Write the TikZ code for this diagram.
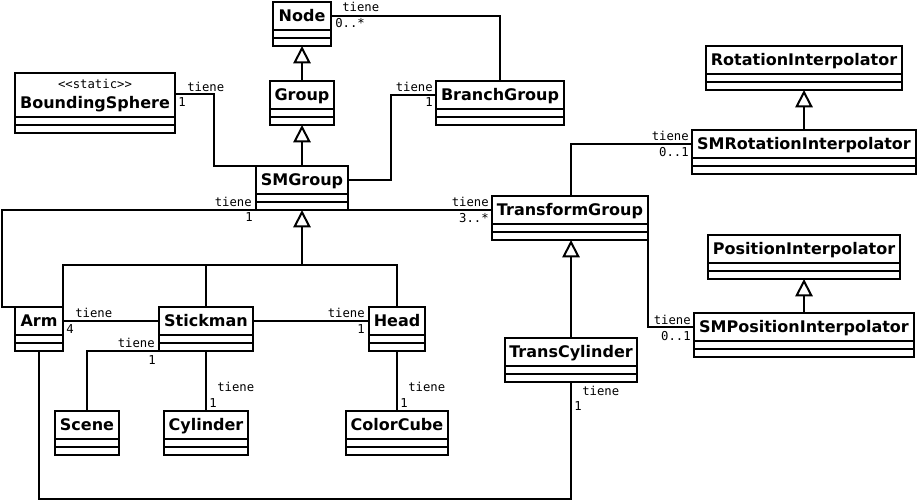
\documentclass[tikz,border=0pt]{standalone}
\usepackage{fontspec}
\usetikzlibrary{arrows.meta}
\newfontfamily\titlefont{DejaVu Sans}
\newfontfamily\monofont{DejaVu Sans Mono}
% #1 title y shift, #2 name, #3 left, #4 top, #5 right, #6 title height, #7 text
\newcommand\umlclass[7][0]{%
  \node[umlbox, anchor=north west, minimum width={(#5-#3)*0.75pt}, minimum height={(#6+16)*0.75pt}] (#2) at (#3,#4) {};
  \node[umltitle, anchor=base] (#2-t) at ({(#3+#5)/2},{#4+#6/2+5.8+#1}) {#7};
  \draw[umlline] (#3,{#4+#6}) -- (#5,{#4+#6});
  \draw[umlline] (#3,{#4+#6+8}) -- (#5,{#4+#6+8});
}
\begin{document}
\begin{tikzpicture}[x=0.75pt,y=-0.75pt,
  umlbox/.style={draw, line width=1.5pt, fill=white, inner sep=0pt, outer sep=0pt},
  umltitle/.style={font=\titlefont\bfseries\fontsize{12}{14}\selectfont, inner sep=0pt, text height=8.75pt, text depth=0pt},
  stereo/.style={font=\monofont\fontsize{9.2}{10}\selectfont, inner sep=0pt},
  umlline/.style={line width=1.5pt},
  assoc/.style={line width=1.5pt},
  inh/.style={line width=1.5pt, -{Triangle[open, length=13pt, width=13pt]}},
  lbl/.style={font=\monofont\fontsize{9.2}{10}\selectfont, inner sep=0pt}]
\useasboundingbox (0,0) rectangle (919,503);

% classes
\umlclass{Node}{273}{2}{331}{28}{Node}
\umlclass{Group}{270}{81}{334}{28}{Group}
\umlclass{BranchGroup}{436}{81}{564}{28}{BranchGroup}
\umlclass[8]{BS}{15}{73}{175}{44}{BoundingSphere}
\node[stereo, anchor=base] (BS-s) at (95,88.5) {<{}<static>{}>};
\umlclass{SMGroup}{256}{166}{348}{28}{SMGroup}
\umlclass{Arm}{15}{307}{63}{28}{Arm}
\umlclass{Stickman}{159}{307}{253}{28}{Stickman}
\umlclass{Head}{369}{307}{425}{28}{Head}
\umlclass{Scene}{55}{411}{119}{28}{Scene}
\umlclass{Cylinder}{164}{411}{248}{28}{Cylinder}
\umlclass{ColorCube}{346}{411}{448}{28}{ColorCube}
\umlclass{TransformGroup}{492}{196}{648}{28}{TransformGroup}
\umlclass{SMRot}{692}{130}{916}{28}{SMRotationInterpolator}
\umlclass{RotInt}{706}{46}{902}{28}{RotationInterpolator}
\umlclass{PosInt}{708}{235}{900}{28}{PositionInterpolator}
\umlclass{SMPos}{694}{313}{914}{28}{SMPositionInterpolator}
\umlclass{TransCylinder}{505}{338}{637}{28}{TransCylinder}

% inheritance
\draw[inh] (Group.north) -- (Node.south);
\draw[inh] (SMGroup.north) -- (Group.south);
\coordinate (hj) at (302,265);
\draw[assoc] (Arm.north east) |- (hj) -| (Head.north);
\draw[assoc] (Stickman.north) -- (Stickman.north |- hj);
\draw[inh] (hj) -- (SMGroup.south);
\draw[inh] (TransCylinder.north) -- (TransCylinder.north |- TransformGroup.south);
\draw[inh] (SMRot.north) -- (SMRot.north |- RotInt.south);
\draw[inh] (SMPos.north) -- (SMPos.north |- PosInt.south);

% associations
\draw[assoc] (Node-t -| Node.east) -| (BranchGroup.north);
\coordinate (k1) at (214,94);
\draw[assoc] (BS.east |- k1) -| (SMGroup.north west -| k1) -- (SMGroup.north west);
\coordinate (k2) at (391,0);
\draw[assoc] (SMGroup-t -| SMGroup.east) -| (k2 |- BranchGroup-t) -- (BranchGroup-t -| BranchGroup.west);
\coordinate (k3) at (2,210);
\draw[assoc] (Arm.north west) -| (k3) -- (k3 -| TransformGroup.west);
\draw[assoc] (Arm-t -| Arm.east) -- (Arm-t -| Stickman.west);
\draw[assoc] (Stickman-t -| Stickman.east) -- (Stickman-t -| Head.west);
\draw[assoc] (Stickman.south west) -| (Scene.north);
\draw[assoc] (Stickman.south) -- (Stickman.south |- Cylinder.north);
\draw[assoc] (Head.south) -- (Head.south |- ColorCube.north);
\coordinate (k4) at (0,499);
\draw[assoc] (Arm.south) |- (k4 -| TransCylinder.south) -- (TransCylinder.south);
\coordinate (k5) at (571,0);
\draw[assoc] (k5 |- TransformGroup.north) |- (SMRot-t -| SMRot.west);
\draw[assoc] (TransformGroup.south east) |- (SMPos-t -| SMPos.west);

% labels
\node[lbl, anchor=west] (l1a) at (342,7) {tiene};
\node[lbl, anchor=west] (l1b) at (335,23.5) {0..*};
\node[lbl, anchor=west] (l2a) at (187,87) {tiene};
\node[lbl, anchor=west] (l2b) at (178,102.5) {1};
\node[lbl, anchor=east] (l3a) at (433,87) {tiene};
\node[lbl, anchor=east] (l3b) at (433,102.5) {1};
\node[lbl, anchor=east] (l4a) at (252,202) {tiene};
\node[lbl, anchor=east] (l4b) at (253,217.5) {1};
\node[lbl, anchor=east] (l5a) at (489,202) {tiene};
\node[lbl, anchor=east] (l5b) at (489,218) {3..*};
\node[lbl, anchor=west] (l6a) at (75,312.5) {tiene};
\node[lbl, anchor=west] (l6b) at (66,329) {4};
\node[lbl, anchor=east] (l7a) at (365,312.5) {tiene};
\node[lbl, anchor=east] (l7b) at (365,329) {1};
\node[lbl, anchor=east] (l8a) at (155,342.5) {tiene};
\node[lbl, anchor=east] (l8b) at (156,360) {1};
\node[lbl, anchor=west] (l9a) at (217,387) {tiene};
\node[lbl, anchor=west] (l9b) at (209,403) {1};
\node[lbl, anchor=west] (l10a) at (408,387) {tiene};
\node[lbl, anchor=west] (l10b) at (400,403) {1};
\node[lbl, anchor=west] (l11a) at (582,391) {tiene};
\node[lbl, anchor=west] (l11b) at (574,406) {1};
\node[lbl, anchor=east] (l12a) at (689,136) {tiene};
\node[lbl, anchor=east] (l12b) at (689,152) {0..1};
\node[lbl, anchor=east] (l13a) at (691,320) {tiene};
\node[lbl, anchor=east] (l13b) at (691,336) {0..1};
\end{tikzpicture}
\end{document}
